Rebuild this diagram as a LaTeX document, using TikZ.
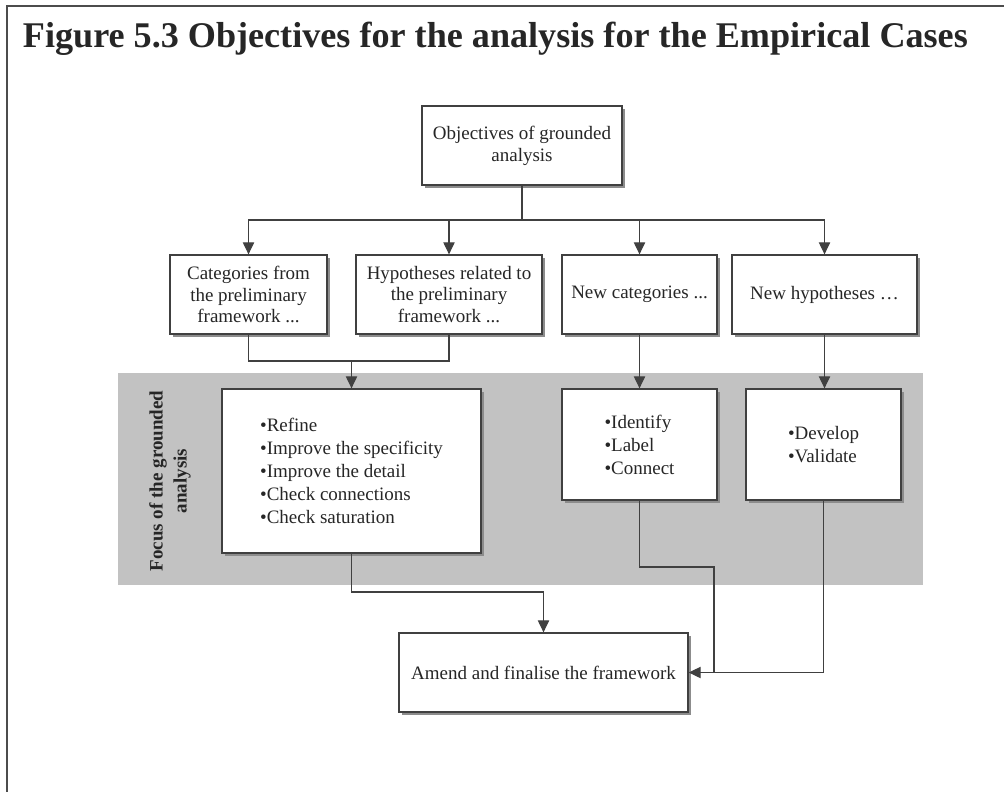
\documentclass[tikz,border=0pt]{standalone}
\usepackage{fontspec}
\setmainfont{Liberation Serif}
\usetikzlibrary{arrows.meta,shadows}

\begin{document}
\begin{tikzpicture}[x=0.025cm,y=-0.025cm,
  box/.style={draw=black!75,line width=0.9pt,fill=white,text=black!85,
    font=\fontsize{13.5}{15.5}\selectfont,align=center,inner sep=0pt,
    drop shadow={shadow xshift=2pt,shadow yshift=-2pt,fill=black!45,opacity=1}},
  list/.style={box,align=left,font=\fontsize{13.5}{16.4}\selectfont},
  arr/.style={draw=black!75,line width=0.8pt,-{Triangle[width=8pt,length=8.5pt]}},
  link/.style={draw=black!75,line width=0.8pt}]
\useasboundingbox (0,0) rectangle (1004,791);
\clip (0,0) rectangle (1004,791);
\fill[white] (0,0) rectangle (1004,791);
\draw[black!70,line width=1pt] (7,6) rectangle (1030,820);
\node[anchor=base west,text=black!85,font=\bfseries\fontsize{25.7}{30}\selectfont] (title) at (18,47)
  {Figure 5.3 Objectives for the analysis for the Empirical Cases};
%focus band
\fill[black!24] (118,373) rectangle (923,585);
\node[rotate=90,align=center,text=black!85,font=\bfseries\fontsize{13.5}{17}\selectfont] (focus) at (170,481)
  {Focus of the grounded\\analysis};
\node[box,minimum width=5cm,minimum height=1.975cm] (obj) at (522,145.5) {Objectives of grounded\\analysis};
\node[box,minimum width=3.925cm,minimum height=1.975cm] (cat) at (248.5,294.5) {Categories from\\the preliminary\\framework ...};
\node[box,minimum width=4.65cm,minimum height=1.975cm] (hyp) at (449,294.5) {Hypotheses related to\\the preliminary\\framework ...};
\node[box,minimum width=3.875cm,minimum height=1.975cm] (newc) at (639.5,294.5) {New categories ...};
\node[box,minimum width=4.625cm,minimum height=1.975cm] (newh) at (824.5,294.5) {New hypotheses \dots};
\node[list,minimum width=6.475cm,minimum height=4.1cm] (ref) at (351.5,471)
  {\textbullet Refine\\\textbullet Improve the specificity\\\textbullet Improve the detail\\\textbullet Check connections\\\textbullet Check saturation};
\node[list,minimum width=3.875cm,minimum height=2.775cm] (ide) at (639.5,444.5)
  {\textbullet Identify\\\textbullet Label\\\textbullet Connect};
\node[list,minimum width=3.875cm,minimum height=2.775cm] (dev) at (823.5,444.5)
  {\textbullet Develop\\\textbullet Validate};
\node[box,minimum width=7.225cm,minimum height=1.975cm] (amd) at (543.5,672.5) {Amend and finalise the framework};
\coordinate (split) at (522,220);
\coordinate (join) at (351.5,361);
\coordinate (bendA) at (351.5,592);
\coordinate (bendB) at (639.5,567);
\coordinate (merge) at (714,672.5);
\draw[link] (obj.south) -- (split);
\foreach \n in {cat,hyp,newc,newh}
  \draw[arr] (split) -| (\n.north);
\draw[link] (cat.south) |- (join);
\draw[link] (hyp.south) |- (join);
\draw[arr] (join) -- (ref.north);
\draw[arr] (newc.south) -- (ide.north);
\draw[arr] (newh.south) -- (newh.south |- dev.north);
\draw[arr] (ref.south) -- (bendA) -| (amd.north);
\draw[link] (ide.south) -- (bendB) -| (merge);
\draw[arr] (dev.south) |- (amd.east);
\end{tikzpicture}
\end{document}
